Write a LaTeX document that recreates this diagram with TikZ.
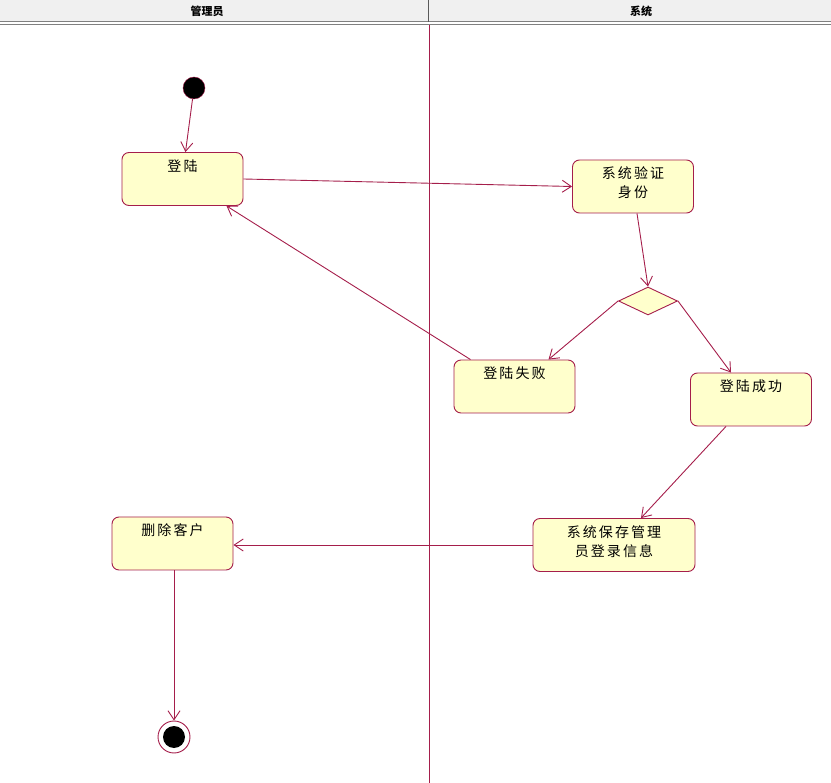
\documentclass[tikz,border=0pt]{standalone}
\usepackage{fontspec}
\newfontfamily\cjk[LetterSpace=15]{Noto Sans CJK SC}
\newfontfamily\cjkhead{Noto Sans CJK SC}
\usetikzlibrary{arrows.meta,shapes.geometric}
\definecolor{umlred}{RGB}{165,30,75}
\definecolor{umlfill}{RGB}{255,255,204}
\definecolor{headgray}{RGB}{240,240,240}

\begin{document}
\begin{tikzpicture}[x=1pt,y=-1pt,
act/.style={draw=umlred, fill=umlfill, rounded corners=7pt, line width=0.9pt,
  minimum width=121pt, inner xsep=2pt, inner ysep=4pt, text height=15pt,
  text depth=30pt, align=center, font=\cjk\fontsize{14}{19}\selectfont},
twoline/.style={act, text height=34pt, text depth=11pt},
choice/.style={diamond, draw=umlred, fill=umlfill, line width=0.9pt, aspect=2.1,
  minimum width=59pt, minimum height=28pt, inner sep=0pt},
initial/.style={circle, draw=umlred, fill=black, minimum size=22pt, inner sep=0pt},
final/.style={circle, draw=umlred, fill=white, line width=0.9pt, minimum size=32pt,
  inner sep=0pt, path picture={\fill[black] (path picture bounding box.center) circle (11pt);}},
flow/.style={draw=umlred, line width=0.9pt, -{Straight Barb[length=9pt,width=12pt]}},
lanehead/.style={font=\cjkhead\bfseries\fontsize{11}{12}\selectfont},
]
\useasboundingbox (0,0) rectangle (831,783);
% шапка дорожек
\fill[headgray] (0,0) rectangle (831,21);
\draw[gray, line width=1pt] (0,21.5) -- (831,21.5);
\draw[gray, line width=1pt] (0,24.5) -- (831,24.5);
\draw[gray!70!black, line width=1pt] (428,0) -- (428,22);
\draw[umlred, line width=1pt] (429,25) -- (429,783);
\node[lanehead] (hadmin) at (207,11) {管理员};
\node[lanehead] (hsys) at (641,11) {系统};

\node[initial] (init) at (194,88) {};
\node[act] (login) at (182.5,179) {登陆};
\node[twoline] (verify) at (633,186.5) {系统验证\\身份};
\node[choice] (dec) at (648,301) {};
\node[act] (fail) at (514.5,386.5) {登陆失败};
\node[act] (ok) at (751,399.5) {登陆成功};
\node[twoline, minimum width=162pt] (save) at (614,545) {系统保存管理\\员登录信息};
\node[act] (del) at (172.5,543.5) {删除客户};
\node[final] (fin) at (174,737) {};

\draw[flow] (init) -- ([xshift=3pt]login.north);
\draw[flow] (login.east) -- (verify.west);
\draw[flow] ([xshift=4pt]verify.south) -- (dec.north);
\draw[flow] (dec.west) -- ([xshift=34pt]fail.north);
\draw[flow] (dec.east) -- ([xshift=-20pt]ok.north);
\draw[flow] ([xshift=-44pt]fail.north) -- ([xshift=44pt]login.south);
\draw[flow] ([xshift=-25pt]ok.south) -- ([xshift=27pt]save.north);
\draw[flow] (save.west) -- (save.west -| del.east);
\draw[flow] (del.south -| fin) -- (fin.north);
\end{tikzpicture}
\end{document}
